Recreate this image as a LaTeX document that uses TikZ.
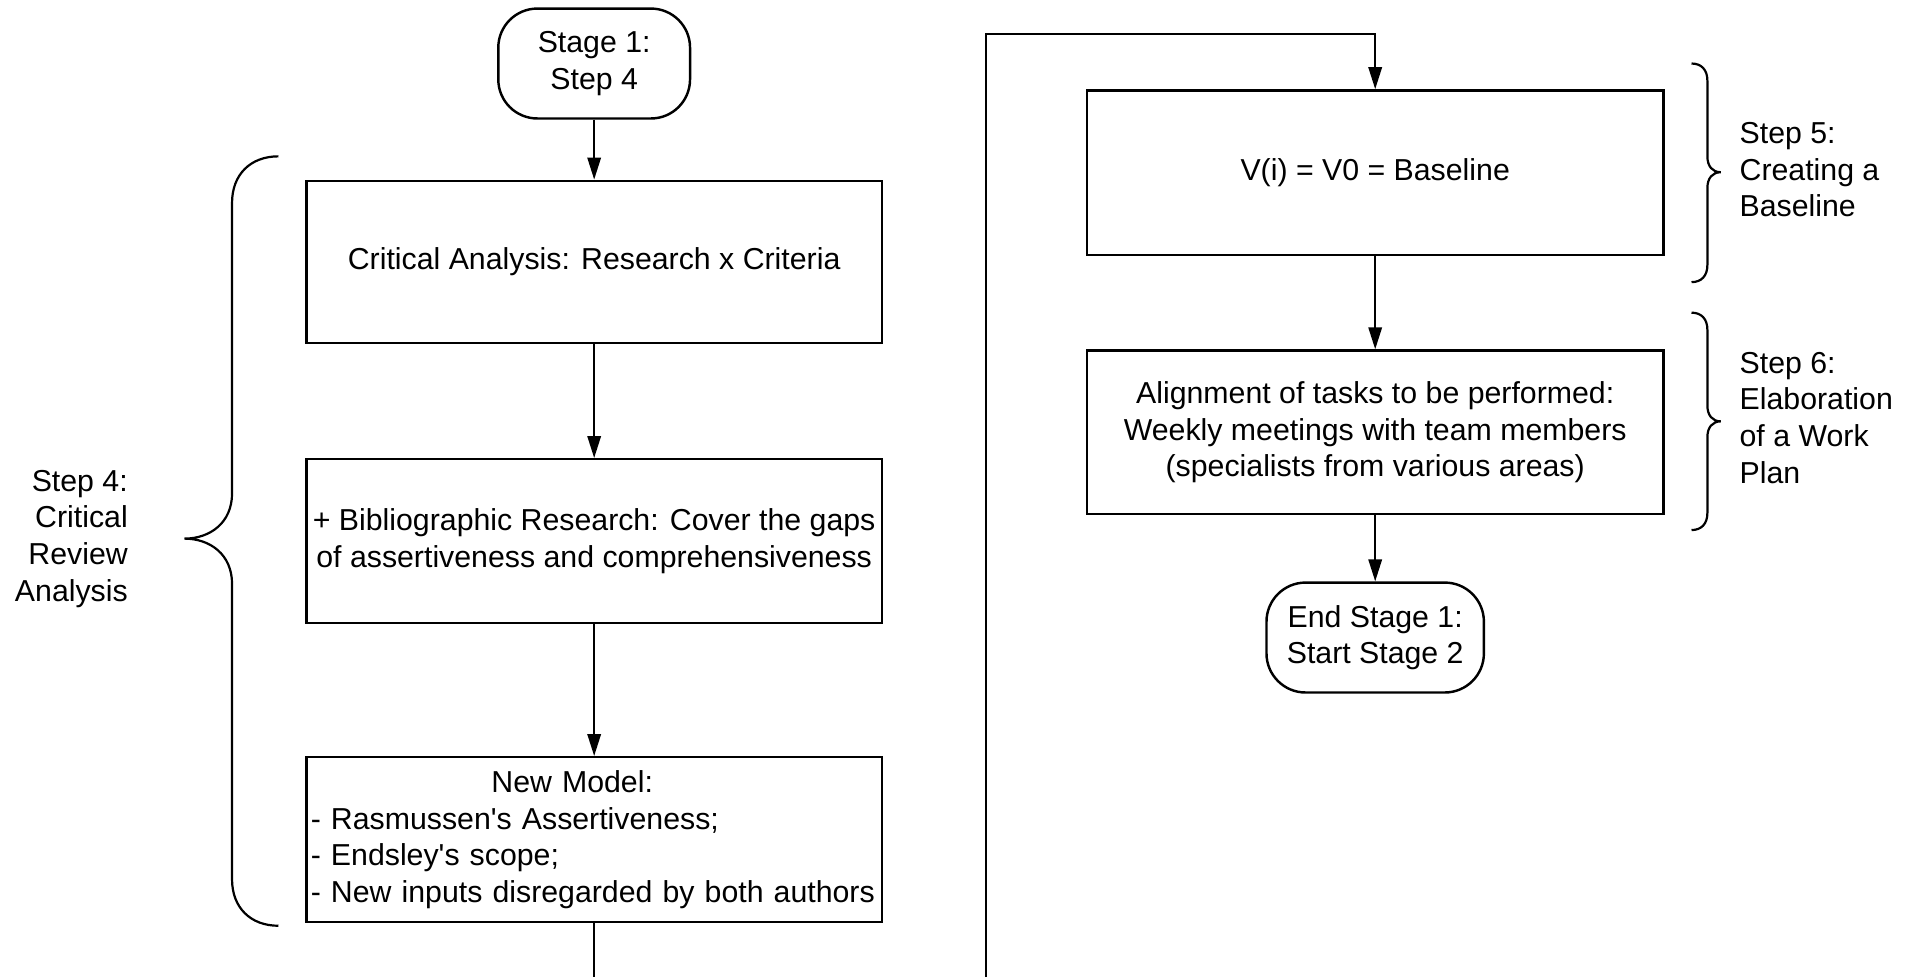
\documentclass[tikz,border=0pt]{standalone}
\usepackage{fontspec}
\setmainfont{Liberation Sans}[Ligatures=TeXOff]
\usetikzlibrary{arrows.meta}
\begin{document}
\begin{tikzpicture}[x=0.5pt,y=-0.5pt,
  font=\fontsize{12.4pt}{15pt}\selectfont,
  box/.style={draw, line width=1pt, minimum width=235.5pt, minimum height=67pt, align=center, inner sep=1pt},
  term/.style={draw, line width=1pt, rounded corners=16pt, minimum height=45pt, align=center, inner sep=1pt},
  link/.style={line width=0.8pt},
  conn/.style={link, -{Triangle[length=9pt,width=5.5pt]}},
  bracket/.style={line width=0.9pt},
  lbl/.style={inner sep=0pt}]
\useasboundingbox (0,0) rectangle (1568,800);
\fill[white] (0,0) rectangle (1568,800);

% left column
\node[term, minimum width=78.5pt] (s1) at (486.5,52) {Stage 1:\\Step 4};
\node[box, minimum height=66.5pt] (b1) at (486.5,214.5) {Critical Analysis: Research x Criteria};
\node[box] (b2) at (486.5,443) {+ Bibliographic Research: Cover the gaps\\of assertiveness and comprehensiveness};
\node[box, minimum height=67.5pt, inner sep=0.5pt, text width=232pt, align=left,
  execute at begin node={\hyphenpenalty=10000\relax}] (b3) at (486.5,687.5)
  {\hfill New Model:\hspace{18pt}\hfill\null\\- Rasmussen's Assertiveness;\\- Endsley's scope;\\- New inputs disregarded by both authors\vphantom{\rule{0pt}{9pt}}};

% right column
\node[box, minimum width=236pt, minimum height=67.5pt] (b4) at (1126,141.5) {V(i) = V0 = Baseline};
\node[box, minimum width=236pt] (b5) at (1126,354) {Alignment of tasks to be performed:\\Weekly meetings with team members\\(specialists from various areas)};
\node[term, minimum width=89pt] (e1) at (1126,522) {End Stage 1:\\Start Stage 2};

% labels
\node[lbl, anchor=east, align=right] (l4) at (105,441) {Step 4:\\Critical\\Review\\Analysis};
\node[lbl, anchor=west, align=left] (l5) at (1424,139) {Step 5:\\Creating a\\Baseline};
\node[lbl, anchor=west, align=left] (l6) at (1424,342) {Step 6:\\Elaboration\\of a Work\\Plan};

% connectors
\draw[conn] (s1) -- (b1);
\draw[conn] (b1) -- (b2);
\draw[conn] (b2) -- (b3);
\coordinate (c1) at (486.5,800);
\draw[link] (b3) -- (c1);
\coordinate (c2) at (807,800);
\coordinate (c3) at (807,28);
\draw[conn] (c2) -- (c3) -| (b4);
\draw[conn] (b4) -- (b5);
\draw[conn] (b5) -- (e1);

% braces
\draw[bracket] (228,128) .. controls (205,128) and (190,143) .. (190,166) -- (190,404)
  .. controls (190,428) and (172,441) .. (151,441)
  .. controls (172,441) and (190,454) .. (190,478) -- (190,720)
  .. controls (190,743) and (205,758) .. (228,758);
\draw[bracket] (1385,52) .. controls (1393,52) and (1398,57) .. (1398,66) -- (1398,128)
  .. controls (1398,136) and (1402,141) .. (1409,141)
  .. controls (1402,141) and (1398,146) .. (1398,154) -- (1398,217)
  .. controls (1398,226) and (1393,231) .. (1385,231);
\draw[bracket] (1385,256) .. controls (1393,256) and (1398,261) .. (1398,270) -- (1398,332)
  .. controls (1398,340) and (1402,345) .. (1409,345)
  .. controls (1402,345) and (1398,350) .. (1398,358) -- (1398,420)
  .. controls (1398,429) and (1393,434) .. (1385,434);
\end{tikzpicture}
\end{document}
